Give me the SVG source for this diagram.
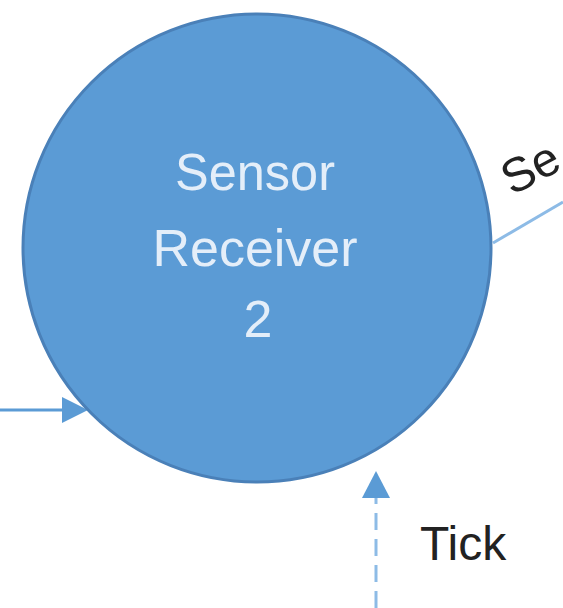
<svg xmlns="http://www.w3.org/2000/svg" width="563" height="608" viewBox="0 0 563 608">
<style>
.node{fill:#5b9bd5;stroke:#4a80b8;stroke-width:3}
.lbl{font-family:"Liberation Sans",Arial,sans-serif;fill:#e4eef9;font-size:52px;text-anchor:middle}
.ext{font-family:"Liberation Sans",Arial,sans-serif;fill:#222;}
.conn{fill:none;stroke-width:3}
</style>
<rect width="563" height="608" fill="#ffffff"/>
<g id="connectors">
<line class="conn" x1="0" y1="410" x2="64" y2="410" stroke="#5b9bd5"/>
<path d="M62,397 L88,410 L62,423 z" fill="#5b9bd5"/>
<line class="conn" x1="493" y1="243" x2="563" y2="202" stroke="#8dbbe6"/>
<line class="conn" x1="376" y1="608" x2="376" y2="498" stroke="#8dbbe6" stroke-dasharray="17 9"/>
<path d="M362,498 L376,471 L390,498 z" fill="#5b9bd5"/>
</g>
<g id="sensor-receiver-2">
<circle class="node" cx="257" cy="248" r="234"/>
<text class="lbl" x="255" y="190" textLength="160" lengthAdjust="spacingAndGlyphs">Sensor</text>
<text class="lbl" x="255" y="266">Receiver</text>
<text class="lbl" x="258" y="337">2</text>
</g>
<g id="labels">
<text class="ext" x="420" y="560" font-size="48">Tick</text>
<text class="ext" x="512" y="196" font-size="48" transform="rotate(-28 512 196)">Se</text>
</g>
</svg>
